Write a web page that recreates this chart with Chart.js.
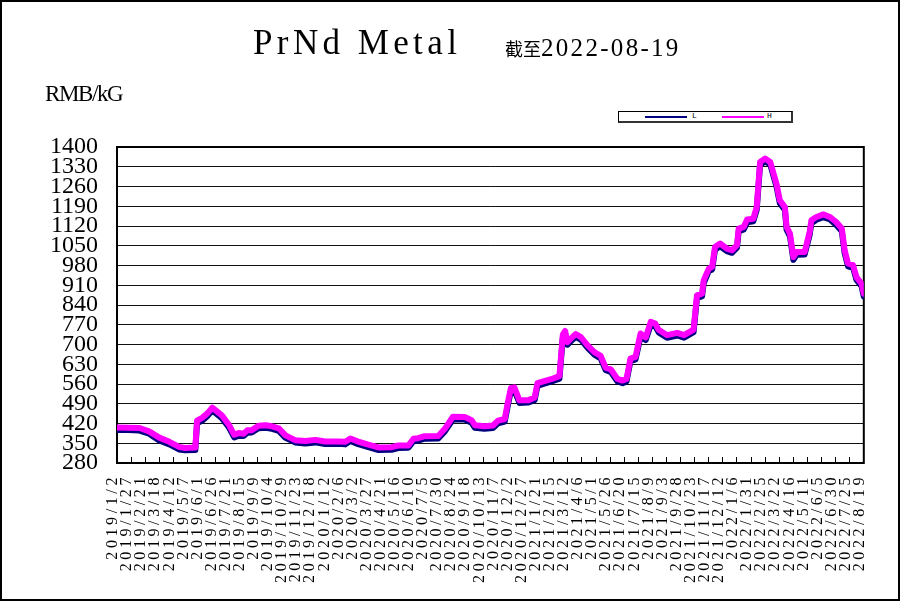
<!DOCTYPE html>
<html>
<head>
<meta charset="utf-8">
<script src="https://cdn.jsdelivr.net/npm/chart.js@4/dist/chart.umd.min.js"></script>
<style>
html,body{margin:0;padding:0;background:#fff;}
#wrap{position:relative;width:900px;height:601px;overflow:hidden;background:#fff;}
#c{position:absolute;left:0;top:0;}
#frame{position:absolute;left:0;top:0;width:900px;height:601px;box-sizing:border-box;border:2px solid #000;pointer-events:none;}
.t1{position:absolute;left:253px;top:25px;font-family:"Liberation Serif",serif;font-size:35px;line-height:35px;letter-spacing:4.4px;color:#000;white-space:nowrap;}
.t2{position:absolute;left:505px;top:35px;font-family:"Liberation Serif",serif;font-size:25px;line-height:25px;color:#000;white-space:nowrap;}
.t2 .cjk{font-family:"Noto Sans CJK SC",sans-serif;font-size:18px;font-weight:400;}
.t2 .num{letter-spacing:2.3px;}
.unit{position:absolute;left:45px;top:82px;font-family:"Liberation Serif",serif;font-size:23px;line-height:23px;letter-spacing:-1.4px;color:#000;white-space:nowrap;}
#legend{position:absolute;left:618px;top:111px;width:172px;height:9px;border:1px solid #000;border-right:2px solid #333;border-bottom:2px solid #333;background:#fff;}
#legend .ln{position:absolute;top:4px;height:2px;}
#legend .lb{position:absolute;top:-1px;font-family:"Liberation Mono",monospace;font-size:8px;line-height:10px;color:#000;}
</style>
</head>
<body>
<div id="wrap">
  <canvas id="c" width="900" height="601"></canvas>
  <div class="t1">PrNd Metal</div>
  <div class="t2"><span class="cjk">截至</span><span class="num">2022-08-19</span></div>
  <div class="unit">RMB/kG</div>
  <div id="legend">
    <div class="ln" style="left:26px;width:42px;background:#000080;"></div>
    <div class="lb" style="left:73px;">L</div>
    <div class="ln" style="left:103px;width:42px;background:#FF00FF;"></div>
    <div class="lb" style="left:148px;">H</div>
  </div>
  <div id="frame"></div>
</div>
<script>
// Day offsets from 2019/1/2
const dayOffsets = [0,20,40,57,75,93,110,121,139,142,151,160,169,186,199,208,216,225,231,239,251,264,275,287,299,316,334,352,369,393,405,414,428,446,464,487,499,517,526,534,546,570,582,596,617,629,635,652,667,676,688,693,699,705,714,729,741,746,758,770,785,791,795,799,808,814,823,835,847,858,867,876,888,897,904,911,920,929,938,947,955,961,976,994,1006,1023,1029,1038,1041,1050,1056,1061,1070,1082,1091,1100,1103,1112,1118,1129,1135,1141,1150,1159,1170,1176,1185,1188,1194,1200,1206,1220,1229,1232,1241,1253,1265,1276,1286,1291,1297,1306,1312,1321,1325];

const seriesH = [406,405,404,392,370,355,337,333,335,430,440,455,476,449,414,380,386,384,396,396,412,414,410,403,378,361,358,362,356,356,355,367,356,345,335,336,342,342,366,368,375,376,402,444,443,432,414,410,413,430,436,490,546,548,502,502,512,563,570,577,588,735,748,708,726,737,726,697,673,660,618,612,578,572,578,650,656,739,725,780,774,752,733,741,733,753,874,880,928,969,975,1046,1058,1040,1034,1052,1111,1117,1143,1146,1187,1347,1359,1347,1270,1211,1187,1117,1093,1010,1028,1028,1099,1140,1152,1161,1152,1134,1111,1034,987,981,939,916,880];

const seriesL = [397,397,395,384,360,346,328,325,326,421,430,446,466,439,405,371,377,376,387,388,403,405,401,394,369,353,349,353,347,348,346,358,347,336,326,327,333,334,357,359,366,367,393,434,434,423,405,401,404,421,427,480,537,538,493,494,503,553,561,568,579,725,738,699,717,727,717,688,664,651,609,603,569,563,569,641,647,729,716,770,765,743,724,732,724,744,864,871,918,960,966,1036,1048,1031,1025,1043,1101,1108,1133,1137,1177,1337,1349,1338,1260,1201,1177,1107,1083,1000,1018,1019,1089,1130,1142,1151,1143,1124,1101,1024,977,972,929,907,870];

const tickLabels = ["2019/1/2","2019/1/27","2019/2/21","2019/3/18","2019/4/12","2019/5/7","2019/6/1","2019/6/26","2019/7/21","2019/8/15","2019/9/9","2019/10/4","2019/10/29","2019/11/23","2019/12/18","2020/1/12","2020/2/6","2020/3/2","2020/3/27","2020/4/21","2020/5/16","2020/6/10","2020/7/5","2020/7/30","2020/8/24","2020/9/18","2020/10/13","2020/11/7","2020/12/2","2020/12/27","2021/1/21","2021/2/15","2021/3/12","2021/4/6","2021/5/1","2021/5/26","2021/6/20","2021/7/15","2021/8/9","2021/9/3","2021/9/28","2021/10/23","2021/11/17","2021/12/12","2022/1/6","2022/1/31","2022/2/25","2022/3/22","2022/4/16","2022/5/11","2022/6/5","2022/6/30","2022/7/25","2022/8/19"];
const tickStepDays = 25;

const yTicks = [280,350,420,490,560,630,700,770,840,910,980,1050,1120,1190,1260,1330,1400];

const ptsH = dayOffsets.map((d, i) => ({x: d, y: seriesH[i]}));
const ptsL = dayOffsets.map((d, i) => ({x: d, y: seriesL[i]}));

const framePlugin = {
  id: 'frame',
  beforeDatasetsDraw(chart) {
    const a = chart.chartArea, ctx = chart.ctx;
    ctx.save();
    ctx.strokeStyle = '#000';
    ctx.lineWidth = 2;
    ctx.strokeRect(a.left, a.top, a.right - a.left, a.bottom - a.top);
    ctx.restore();
  }
};

function spacedLabels(s) {
  s.height = 138;
  if (!s._spaced) {
    const orig = s.drawLabels.bind(s);
    s.drawLabels = (ca) => {
      const ctx = s.ctx;
      const prev = ctx.letterSpacing;
      ctx.letterSpacing = '3.6px';
      orig(ca);
      ctx.letterSpacing = prev || '0px';
    };
    s._spaced = true;
  }
}

new Chart(document.getElementById('c'), {
  type: 'line',
  data: {
    datasets: [
      {label: 'H', data: ptsH, borderColor: '#FF00FF', backgroundColor: '#FF00FF', borderWidth: 6, pointRadius: 0, tension: 0, borderJoinStyle: 'round', borderCapStyle: 'round', fill: false},
      {label: 'L', data: ptsL, borderColor: '#000080', backgroundColor: '#000080', borderWidth: 6, pointRadius: 0, tension: 0, borderJoinStyle: 'round', borderCapStyle: 'round', fill: false}
    ]
  },
  options: {
    responsive: false,
    animation: false,
    layout: {padding: {left: 0, top: 147, right: 21, bottom: 0}},
    plugins: {legend: {display: false}, title: {display: false}, tooltip: {enabled: false}},
    scales: {
      x: {
        type: 'linear',
        min: 0,
        max: (tickLabels.length - 1) * tickStepDays,
        afterBuildTicks: s => { s.ticks = tickLabels.map((t, i) => ({value: i * tickStepDays})); },
        afterFit: spacedLabels,
        border: {display: true, color: '#000', width: 2},
        grid: {display: true, drawOnChartArea: false, drawTicks: true, tickLength: -6, tickColor: '#000', tickWidth: 1},
        ticks: {
          autoSkip: false, maxRotation: 90, minRotation: 90, padding: 17, labelOffset: -4,
          color: '#000', font: {family: 'Liberation Serif', size: 16},
          callback: (v, i) => tickLabels[i]
        }
      },
      y: {
        type: 'linear',
        min: 280,
        max: 1400,
        afterBuildTicks: s => { s.ticks = yTicks.map(v => ({value: v})); },
        afterFit: s => { s.width = 117; },
        border: {display: true, color: '#000', width: 2},
        grid: {color: '#111', lineWidth: 1, drawTicks: false},
        ticks: {autoSkip: false, padding: 19, color: '#000', font: {family: 'Liberation Serif', size: 24}, callback: v => String(v)}
      }
    }
  },
  plugins: [framePlugin]
});
</script>
</body>
</html>
